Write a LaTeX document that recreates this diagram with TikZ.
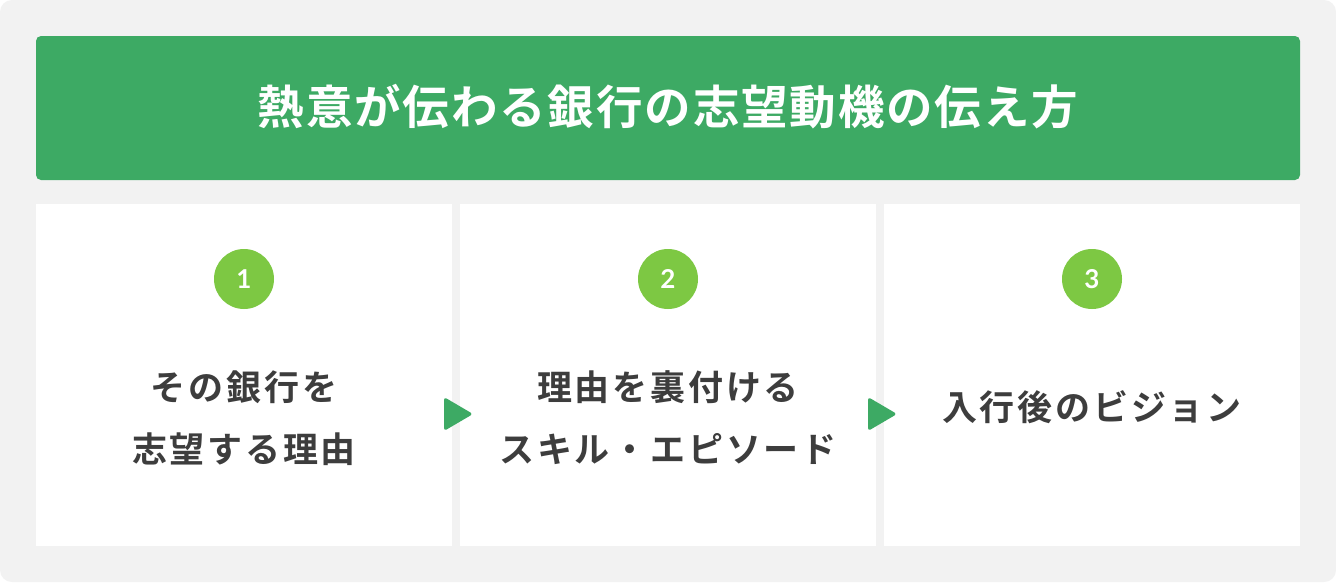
\documentclass[tikz,border=0pt]{standalone}
\usepackage{fontspec}
\newfontfamily\jpb[LetterSpace=8]{Noto Sans CJK JP Bold}
\newfontfamily\jph[LetterSpace=4]{Noto Sans CJK JP Bold}
\newfontfamily\numf{Lato}
\definecolor{bggray}{HTML}{F2F2F2}
\definecolor{hdrgreen}{HTML}{3DAA64}
\definecolor{numgreen}{HTML}{7DC843}
\definecolor{txtgray}{HTML}{3D3D3D}
\tikzset{
  card/.style={fill=white, draw=none},
  numcircle/.style={circle, fill=numgreen, minimum size=60pt, inner sep=0pt, text=white, font=\numf\bfseries\fontsize{26}{26}\selectfont},
  cardtext/.style={align=center, text=txtgray, font=\jpb\fontsize{35}{62}\selectfont, inner sep=0pt},
  flowarrow/.style={fill=hdrgreen, rounded corners=3pt}
}
\begin{document}
\begin{tikzpicture}[x=1pt,y=-1pt]
\useasboundingbox (0,0) rectangle (1336,582);
\fill[white] (0,0) rectangle (1336,582);
\fill[bggray, rounded corners=12pt] (0,0) rectangle (1336,582);
% header
\fill[hdrgreen, rounded corners=5pt] (36,36) rectangle (1300,180);
\node[text=white, font=\jph\fontsize{46.5}{46.5}\selectfont, inner sep=0pt] (title) at (668,107) {熱意が伝わる銀行の志望動機の伝え方};
% cards
\fill[card] (36,204) rectangle (452,546);
\fill[card] (460,204) rectangle (876,546);
\fill[card] (884,204) rectangle (1300,546);
% numbers
\node[numcircle] (n1) at (244,279) {1};
\node[numcircle] (n2) at (668,279) {2};
\node[numcircle] (n3) at (1092,279) {3};
% texts
\node[cardtext] (t1) at (244,418) {その銀行を\\志望する理由};
\node[cardtext] (t2) at (668,418) {理由を裏付ける\\スキル・エピソード};
\node[cardtext] (t3) at (1092,407) {入行後のビジョン};
% arrows
\fill[flowarrow] (444,397) -- (473,414) -- (444,431) -- cycle;
\fill[flowarrow] (868,397) -- (897,414) -- (868,431) -- cycle;
\end{tikzpicture}
\end{document}
